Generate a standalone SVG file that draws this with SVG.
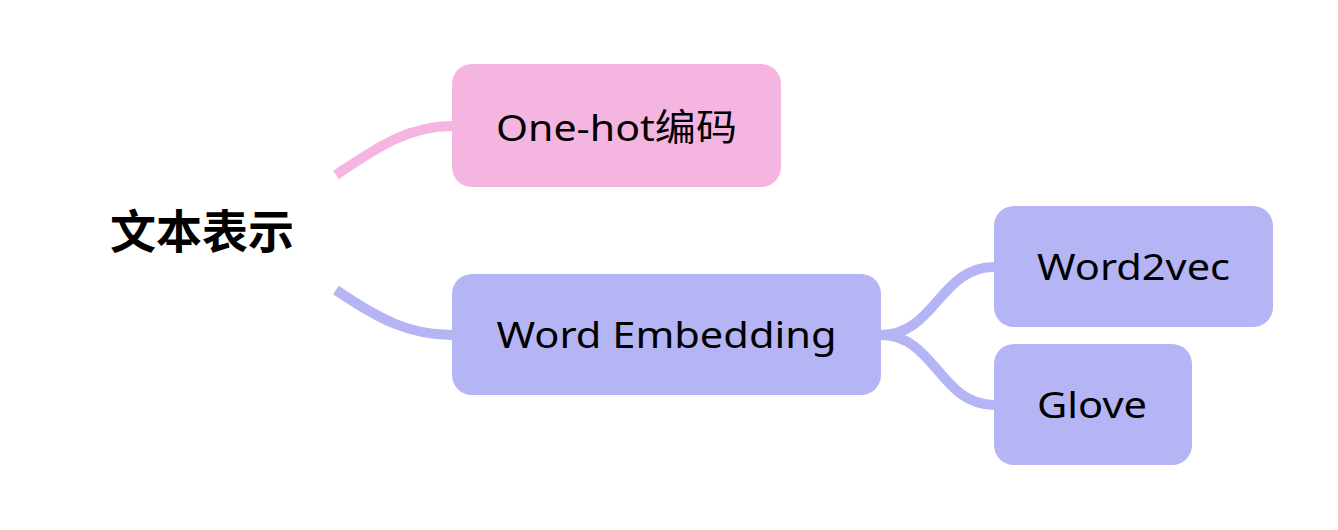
<svg xmlns="http://www.w3.org/2000/svg" width="1338" height="530" viewBox="0 0 1338 530">
<style>
.box{stroke:none}
.pink{fill:#f5b5e1}
.blue{fill:#b5b4f5}
.lbl{font-family:"Noto Sans","Noto Sans CJK SC",sans-serif;font-size:37px;fill:#000;text-anchor:middle}
.root{font-family:"Noto Sans CJK SC",sans-serif;font-size:46px;font-weight:bold;fill:#000;text-anchor:middle}
.edge{fill:none;stroke-width:10}
</style>
<rect width="1338" height="530" fill="#fff"/>
<g id="connectors">
<path class="edge" stroke="#f5b5e1" d="M336,175 C380,145 410,126 452,126"/>
<path class="edge" stroke="#b5b4f5" d="M336,290 C380,320 410,335 452,335"/>
<path class="edge" stroke="#b5b4f5" d="M881,335 C935,335 940,267 994,267"/>
<path class="edge" stroke="#b5b4f5" d="M881,335 C935,335 940,405 994,405"/>
</g>
<g id="root"><text class="root" x="202" y="248">文本表示</text></g>
<g id="onehot"><rect class="box pink" x="452" y="64" width="329" height="123" rx="20"/><text class="lbl" x="616.5" y="141" textLength="241" lengthAdjust="spacingAndGlyphs">One-hot编码</text></g>
<g id="wordembedding"><rect class="box blue" x="452" y="274" width="429" height="121" rx="20"/><text class="lbl" x="666.5" y="348" textLength="340" lengthAdjust="spacingAndGlyphs">Word Embedding</text></g>
<g id="word2vec"><rect class="box blue" x="994" y="206" width="279" height="121" rx="20"/><text class="lbl" x="1133.5" y="280" textLength="193" lengthAdjust="spacingAndGlyphs">Word2vec</text></g>
<g id="glove"><rect class="box blue" x="994" y="344" width="198" height="121" rx="20"/><text class="lbl" x="1092" y="418" textLength="110" lengthAdjust="spacingAndGlyphs">Glove</text></g>
</svg>
